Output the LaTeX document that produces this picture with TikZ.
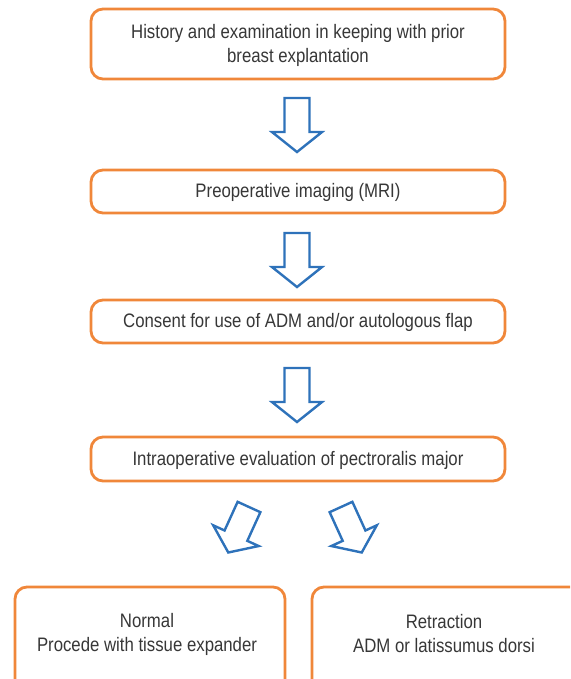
\documentclass[tikz,border=0pt]{standalone}
\usepackage{fontspec}
\setmainfont[FakeStretch=0.86]{Liberation Sans}
\definecolor{boxorange}{RGB}{240,135,58}
\definecolor{arrowblue}{RGB}{46,114,186}
\definecolor{textgray}{RGB}{55,55,55}
\begin{document}
\begin{tikzpicture}[x=1pt,y=-1pt,
  box/.style={draw=boxorange,line width=2.8pt,rounded corners=12pt,fill=white},
  lbl/.style={text=textgray,font=\fontsize{19.5}{24}\selectfont,align=center},
  bigarrow/.style={draw=arrowblue,line width=2.4pt,fill=white,line join=miter}
]
\useasboundingbox (0,0) rectangle (570,679);
\clip (0,0) rectangle (570,679);
% boxes
\draw[box] (91,9) rectangle (505,79);
\draw[box] (91,170) rectangle (505,213);
\draw[box] (91,300) rectangle (505,343);
\draw[box] (91,437) rectangle (505,481);
\draw[box] (15,587) rectangle (285,700);
\draw[box] (312,587) rectangle (590,700);
% labels
\node[lbl] (t1) at (298,45) {History and examination in keeping with prior\\breast explantation};
\node[lbl] (t2) at (298,192) {Preoperative imaging (MRI)};
\node[lbl] (t3) at (298,322) {Consent for use of ADM and/or autologous flap};
\node[lbl] (t4) at (298,460) {Intraoperative evaluation of pectroralis major};
\node[lbl] (t5) at (147,634) {Normal\\Procede with tissue expander};
\node[lbl] (t6) at (444,634) {Retraction\\ADM or latissumus dorsi};
% arrows
\foreach \cx/\cy/\rot/\len in {297/98/0/54, 297/233/0/54, 297/368/0/54, 249/507/-24.5/50, 341/507/24.5/50}{
  \begin{scope}[shift={(\cx,\cy)},rotate=\rot]
    \pgfmathsetmacro{\sh}{\len*0.63}
    \draw[bigarrow] (-12.5,0) -- (12.5,0) -- (12.5,\sh) -- (25,\sh) -- (0,\len) -- (-25,\sh) -- (-12.5,\sh) -- cycle;
  \end{scope}
}
\end{tikzpicture}
\end{document}
